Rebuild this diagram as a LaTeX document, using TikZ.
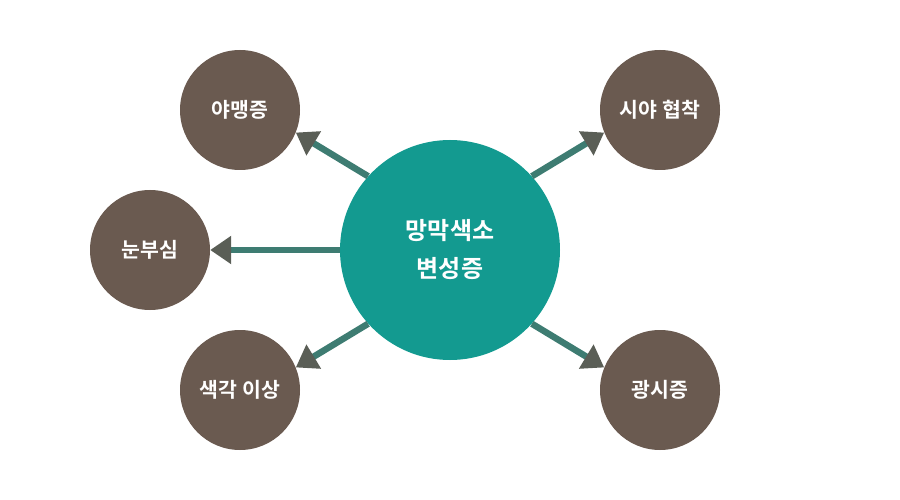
\documentclass[tikz,border=0pt]{standalone}
\usepackage{fontspec}
\newfontfamily\kr{Noto Sans CJK KR}[BoldFont={Noto Sans CJK KR Bold}]
\usetikzlibrary{arrows.meta}
\definecolor{tealc}{HTML}{139A90}
\definecolor{brownc}{HTML}{6A5A50}
\definecolor{shaftc}{HTML}{3E7C72}
\definecolor{tipc}{HTML}{5A5E56}
\begin{document}
\begin{tikzpicture}[x=1pt,y=-1pt,
  mainnode/.style={circle,fill=tealc,minimum size=220pt,inner sep=0pt,text=white,font=\kr\bfseries\fontsize{24}{38}\selectfont,align=center},
  smallnode/.style={circle,fill=brownc,minimum size=120pt,inner sep=0pt,text=white,font=\kr\bfseries\fontsize{20.5}{24}\selectfont},
  arrowline/.style={draw=shaftc,line width=6.5pt,-{Triangle[length=21pt,width=27pt,color=tipc]}}]
\useasboundingbox (0,0) rectangle (900,500);
\node[mainnode] (m) at (450,250) {망막색소\\변성증};
\node[smallnode] (a) at (240,110) {야맹증};
\node[smallnode] (b) at (660,110) {시야 협착};
\node[smallnode] (c) at (150,250) {눈부심};
\node[smallnode] (d) at (240,390) {색각 이상};
\node[smallnode] (e) at (660,390) {광시증};
\draw[arrowline] (m.138) -- (a.-22);
\draw[arrowline] (m.42) -- (b.-158);
\draw[arrowline] (m.west) -- (c.east);
\draw[arrowline] (m.222) -- (d.22);
\draw[arrowline] (m.-42) -- (e.158);
\end{tikzpicture}
\end{document}
